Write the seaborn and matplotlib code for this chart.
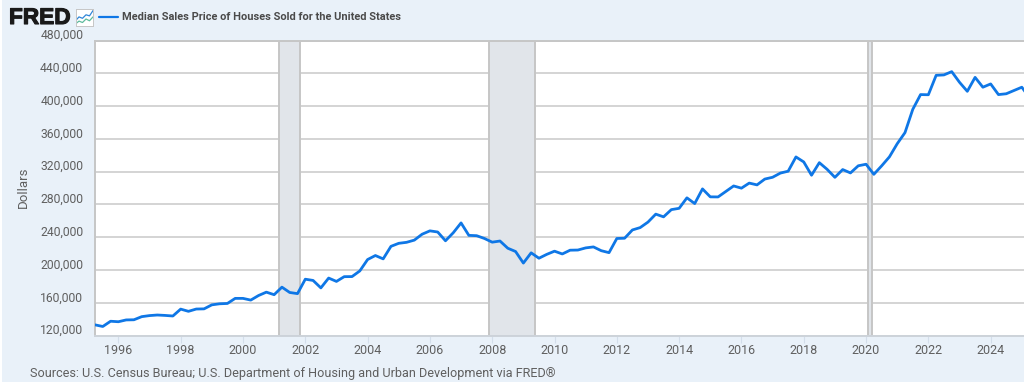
import numpy as np
import pandas as pd
import seaborn as sns
from matplotlib import pyplot as plt
from matplotlib import patheffects as pe
from matplotlib.patches import Rectangle

# quarterly values, 1995 Q2 to 2025 Q2
PRICES = [
    133000, 131000, 137400, 136800, 139000, 139200, 143000,
    144300, 145000, 144500, 143800,
    152200, 149500, 152300, 152500,
    157400, 158700, 159100, 165300,
    165300, 163200, 168800, 172900,
    169800, 179000, 172500, 171100,
    188700, 187200, 178100, 190100,
    186000, 191800, 191900, 198800,
    212700, 217600, 213500, 228800,
    232500, 233700, 236400, 243600,
    247700, 246300, 235600, 245400,
    257400, 242200, 241800, 238400,
    233900, 235300, 226500, 222500,
    208400, 220900, 214300, 219000,
    222900, 219500, 224100, 224300,
    226900, 228100, 223500, 221100,
    238400, 238700, 248800, 251700,
    258400, 268100, 264800, 273600,
    275200, 288000, 281000, 298900,
    289200, 289100, 295800, 302500,
    299800, 306000, 303800, 310900,
    313100, 318200, 320500, 337900,
    331800, 315600, 330900, 322800,
    313000, 322500, 318400, 327100,
    329000, 316700, 327000, 338000,
    354000, 367600, 396000, 414000,
    413800, 437500, 438000, 442000,
    429000, 418000, 435000, 423000,
    427000, 414000, 415000, 419000,
    423000, 410000,
]
QUARTERS = pd.period_range("1995Q2", periods=len(PRICES), freq="Q")
YEARS = [q.year + (q.quarter - 1) / 4 for q in QUARTERS]

RECESSIONS = [(2001.17, 2001.83), (2007.9, 2009.38), (2020.05, 2020.2)]
Y_TICKS = [120000, 160000, 200000, 240000, 280000, 320000, 360000, 400000, 440000, 480000]
X_TICKS = list(range(1996, 2025, 2))

TITLE = "Median Sales Price of Houses Sold for the United States"
SOURCE = "Sources: U.S. Census Bureau; U.S. Department of Housing and Urban Development via FRED®"

BG = "#e9f1f9"
BLUE = "#0f77e6"
GRID = "#d4d4d4"
TXT = "#5f5f5f"

W, H = 1024, 382
sns.set_theme(style="white")
plt.rcParams["font.family"] = ["Roboto", "DejaVu Sans"]

fig = plt.figure(figsize=(W / 100, H / 100), dpi=100, facecolor=BG)
ax = fig.add_axes([95 / W, 1 - 335.5 / H, (1024 - 95) / W, (335.5 - 40.5) / H])
ax.set_facecolor("white")

df = pd.DataFrame({"year": YEARS, "price": PRICES})
for a, b in RECESSIONS:
    ax.axvspan(a, b, facecolor="#e1e5ea", edgecolor="#c6c6c6", lw=1.4, zorder=1)
sns.lineplot(data=df, x="year", y="price", color=BLUE, lw=2.0, ax=ax, zorder=3, errorbar=None)

ax.set_xlim(1995.25, 2025.07)
ax.set_ylim(120000, 480000)
ax.set_xticks(X_TICKS)
ax.set_yticks(Y_TICKS)
ax.set_yticklabels([])
ax.set_xlabel("")
ax.set_ylabel("")
ax.grid(axis="y", color=GRID, lw=1.4, zorder=0)
ax.set_axisbelow(True)
ax.tick_params(axis="x", bottom=True, length=5, width=0.8, color="#d3deea", labelsize=9, labelcolor=TXT, pad=1)
ax.tick_params(axis="y", left=False)
for s in ["left", "top"]:
    ax.spines[s].set_color("#c6c6c6")
    ax.spines[s].set_linewidth(1.4)
ax.spines["bottom"].set_color("#cdd3da")
ax.spines["bottom"].set_linewidth(1.4)
ax.spines["right"].set_visible(False)

# y labels sit a little above their gridlines
for v in Y_TICKS:
    ax.annotate(f"{v:,}", (0, v), xycoords=ax.get_yaxis_transform(), xytext=(-8.5, 3.5),
                textcoords="offset points", ha="right", va="center", fontsize=8.7, color=TXT)

fig.text(23 / W, 1 - 187 / H, "Dollars", rotation=90, ha="center", va="center", fontsize=9.5, color=TXT)
fig.text(30 / W, 1 - 374 / H, SOURCE, ha="left", va="center", fontsize=9.05, color=TXT)

# header: logo, legend line, title
logo = fig.text(9 / W, 1 - 17.5 / H, "FRED", ha="left", va="center", fontsize=16.3, fontweight="bold",
                color="#1a1a1a", family=["Liberation Sans", "DejaVu Sans"])
logo.set_path_effects([pe.withStroke(linewidth=0.8, foreground="#1a1a1a")])
fig.add_artist(plt.Line2D([99 / W, 118 / W], [1 - 17 / H] * 2, color=BLUE, lw=1.6))
fig.text(122 / W, 1 - 17 / H, TITLE, ha="left", va="center", fontsize=7.9, fontweight="bold", color="#4a4a4a")

# small chart icon next to the logo
icon = fig.add_axes([75.5 / W, 1 - 26 / H, 17.5 / W, 17.5 / H])
icon.set_facecolor("white")
icon.set_xlim(0, 5)
icon.set_ylim(0, 5)
icon.set_xticks([])
icon.set_yticks([])
icon.plot([0, 1, 2, 3, 4, 5], [1.5, 2.6, 2.2, 3.2, 2.9, 4.4], color="#2f86d8", lw=0.9)
icon.plot([0, 1, 2, 3, 4, 5], [0.6, 1.4, 1.0, 2.0, 1.5, 2.6], color="#5dbb9d", lw=0.9)
for s in icon.spines.values():
    s.set_color("#c6c6c6")
    s.set_linewidth(0.7)

# thin white edge left of the page
fig.add_artist(Rectangle((0, 0), 2 / W, 1, transform=fig.transFigure, facecolor="white", edgecolor="none"))

fig.savefig("out.png", dpi=100, facecolor=BG)
